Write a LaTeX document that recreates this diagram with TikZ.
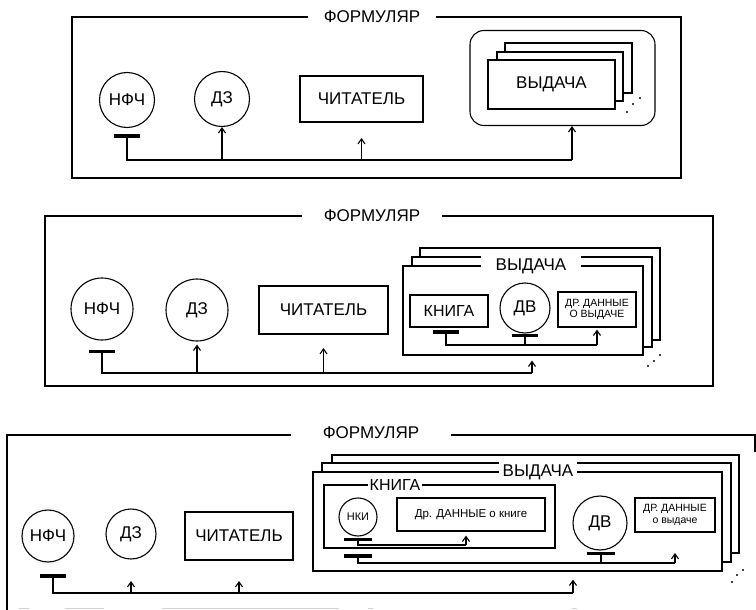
\documentclass[tikz,border=0pt]{standalone}
\usepackage{fontspec}
\setmainfont{Liberation Sans}
\usetikzlibrary{arrows.meta,calc}
\begin{document}
\begin{tikzpicture}[x=1pt,y=-1pt,
 frm/.style={draw, line width=1.1pt, rectangle, inner sep=0pt},
 bx/.style={draw, line width=1.1pt, rectangle, inner sep=0pt, fill=white},
 crc/.style={draw, circle, line width=1.1pt, inner sep=0pt, fill=white},
 big/.style={font=\fontsize{17}{19}\selectfont},
 mid/.style={font=\fontsize{16}{18}\selectfont},
 sml/.style={font=\fontsize{10.5}{11.5}\selectfont, align=center},
 ttl/.style={fill=white, inner ysep=3pt},
 tbar/.style={line width=3.4pt},
 conn/.style={line width=1.1pt},
 arr/.style={line width=1.1pt, -{Straight Barb[length=5pt,width=7pt,line width=1.1pt]}},
 faint/.style={draw=gray!35, line width=0.9pt}
]
\useasboundingbox (0,0) rectangle (756,610);

% ================= PANEL 1 =================
\node[frm, minimum width=609, minimum height=161] (fr1) at (376.5,97.5) {};
\node[ttl, big, inner xsep=16pt] (ft1) at (372,17) {ФОРМУЛЯР};
\node[crc, big, minimum size=55] (nfc1) at (127,100) {НФЧ};
\node[crc, big, minimum size=55] (dz1) at (222,99) {ДЗ};
\node[bx, big, minimum width=123, minimum height=46] (cht1) at (361.5,99) {ЧИТАТЕЛЬ};
\node[bx, rounded corners=14pt, minimum width=185, minimum height=95] (vr1) at (562.5,78) {};
\node[bx, minimum width=127, minimum height=50] (vs1c) at (568.5,68) {};
\node[bx, minimum width=126, minimum height=49] (vs1b) at (560,76.5) {};
\node[bx, big, minimum width=127, minimum height=49] (vs1a) at (551.5,84.5) {ВЫДАЧА};
\fill (627,112) circle (1.2) (633,104) circle (1.2) (640,98) circle (1.2);

\coordinate (t1) at ($(nfc1.south)+(0,8)$);
\draw[tbar] ($(t1)+(-13,0)$) -- ($(t1)+(13,0)$);
\coordinate (h1) at (t1 |- 0,160);
\coordinate (e1) at (572,160);
\draw[conn] (t1) -- (h1) -- (e1);
\draw[arr] (e1) -- (e1 |- vr1.south);
\draw[arr] (h1 -| dz1.south) -- (dz1.south);
\draw[arr] (h1 -| cht1.south) -- ++(0,-22);

% ================= PANEL 2 =================
\node[frm, minimum width=668, minimum height=170] (fr2) at (379,301) {};
\node[ttl, big, inner xsep=22pt] (ft2) at (372,216) {ФОРМУЛЯР};
\node[crc, big, minimum size=62] (nfc2) at (102,309) {НФЧ};
\node[crc, big, minimum size=62] (dz2) at (197,310) {ДЗ};
\node[bx, big, minimum width=129, minimum height=48] (cht2) at (323.5,310) {ЧИТАТЕЛЬ};
\node[bx, minimum width=240, minimum height=92] (vs2c) at (540,294) {};
\node[bx, minimum width=240, minimum height=90] (vs2b) at (532,302) {};
\node[bx, minimum width=240, minimum height=89] (vs2a) at (523,310.5) {};
\node[ttl, big, inner xsep=15pt] (vt2) at (531,266) {ВЫДАЧА};
\node[bx, mid, minimum width=78, minimum height=32] (kn2) at (449,311) {КНИГА};
\node[crc, big, minimum size=50] (dv2) at (525,308) {ДВ};
\node[bx, sml, minimum width=78, minimum height=35] (dr2) at (597,309.5) {ДР. ДАННЫЕ\\О ВЫДАЧЕ};
\fill (648,366) circle (1.2) (654,361) circle (1.2) (660,355) circle (1.2);

\coordinate (t2k) at (446,332);
\draw[tbar] ($(t2k)+(-13,0)$) -- ($(t2k)+(13,0)$);
\coordinate (h2k) at (446,345);
\coordinate (e2k) at (dr2.south |- h2k);
\draw[conn] (t2k) -- (h2k) -- (e2k);
\draw[arr, shorten >=2pt] (e2k) -- (dr2.south);
\coordinate (t2d) at ($(dv2.south)+(0,2)$);
\draw[tbar] ($(t2d)+(-13,0)$) -- ($(t2d)+(13,0)$);
\draw[conn] (t2d) -- (t2d |- h2k);

\coordinate (t2) at ($(nfc2.south)+(0,11)$);
\draw[tbar] ($(t2)+(-13,0)$) -- ($(t2)+(13,0)$);
\coordinate (h2) at (t2 |- 0,373);
\coordinate (e2) at (532,373);
\draw[conn] (t2) -- (h2) -- (e2);
\draw[arr, shorten >=5pt] (e2) -- (e2 |- vs2a.south);
\draw[arr, shorten >=3pt] (h2 -| dz2.south) -- (dz2.south);
\draw[arr] (h2 -| cht2.south) -- ++(0,-25);

% ================= PANEL 3 =================
\draw[line width=1.1pt] (7,612) -- (7,435) -- (755,435) -- (755,452);
\node[ttl, big, inner xsep=32pt] (ft3) at (371,433) {ФОРМУЛЯР};
\draw[faint] (19,608) -- (29,608) (65,608) -- (104,608) (162,608) -- (339,608)
  (368,608) -- (373,608) (572,608) -- (577,608);
\node[crc, big, minimum size=52] (nfc3) at (48,536) {НФЧ};
\node[crc, big, minimum size=50] (dz3) at (131,534) {ДЗ};
\node[bx, big, minimum width=108, minimum height=48] (cht3) at (239,536) {ЧИТАТЕЛЬ};
\node[bx, minimum width=407, minimum height=98] (vs3c) at (535.5,504) {};
\node[bx, minimum width=409, minimum height=99] (vs3b) at (526.5,512.5) {};
\node[bx, minimum width=409, minimum height=99] (vs3a) at (517.5,521.5) {};
\node[ttl, big, inner xsep=4pt] (vt3) at (538,472) {ВЫДАЧА};
\node[bx, minimum width=231, minimum height=63] (kn3) at (439.5,516.5) {};
\node[ttl, mid, inner xsep=2pt, inner ysep=2pt] (kt3) at (395,485) {КНИГА};
\node[crc, font=\fontsize{11}{12}\selectfont, minimum size=38] (nki3) at (358,517) {НКИ};
\node[bx, font=\fontsize{11.5}{12}\selectfont, minimum width=148, minimum height=33] (drk3) at (471,514.5) {Др. ДАННЫЕ о книге};
\node[crc, big, minimum size=54] (dv3) at (600,523) {ДВ};
\node[bx, sml, minimum width=80, minimum height=34] (drv3) at (675,515) {ДР. ДАННЫЕ\\о выдаче};
\fill (732,582) circle (1.2) (737,575) circle (1.2) (743,570) circle (1.2);

\coordinate (t3n) at ($(nki3.south)+(0,3)$);
\draw[tbar] ($(t3n)+(-14,0)$) -- ($(t3n)+(14,0)$);
\coordinate (h3n) at (t3n |- 0,545);
\coordinate (e3n) at (466,545);
\draw[conn] (t3n) -- (h3n) -- (e3n);
\draw[arr, shorten >=4pt] (e3n) -- (e3n |- drk3.south);

\coordinate (t3k) at (358,556);
\draw[tbar] ($(t3k)+(-14,0)$) -- ($(t3k)+(14,0)$);
\coordinate (h3k) at (358,563);
\coordinate (e3k) at (drv3.south |- h3k);
\draw[conn] (t3k) -- (h3k) -- (e3k);
\draw[arr] (e3k) -- ++(0,-10);
\coordinate (t3d) at ($(dv3.south)+(1,3)$);
\draw[tbar] ($(t3d)+(-14,0)$) -- ($(t3d)+(14,0)$);
\draw[conn] (t3d) -- (t3d |- h3k);

\coordinate (t3) at (53,576);
\draw[tbar] ($(t3)+(-13,0)$) -- ($(t3)+(13,0)$);
\coordinate (h3) at (53,593);
\coordinate (e3) at (573,593);
\draw[conn] (t3) -- (h3) -- (e3);
\draw[arr, shorten >=8pt] (e3) -- (e3 |- vs3a.south);
\draw[arr] (h3 -| dz3.south) -- ++(0,-12);
\draw[arr] (h3 -| cht3.south) -- ++(0,-12);
\end{tikzpicture}
\end{document}
